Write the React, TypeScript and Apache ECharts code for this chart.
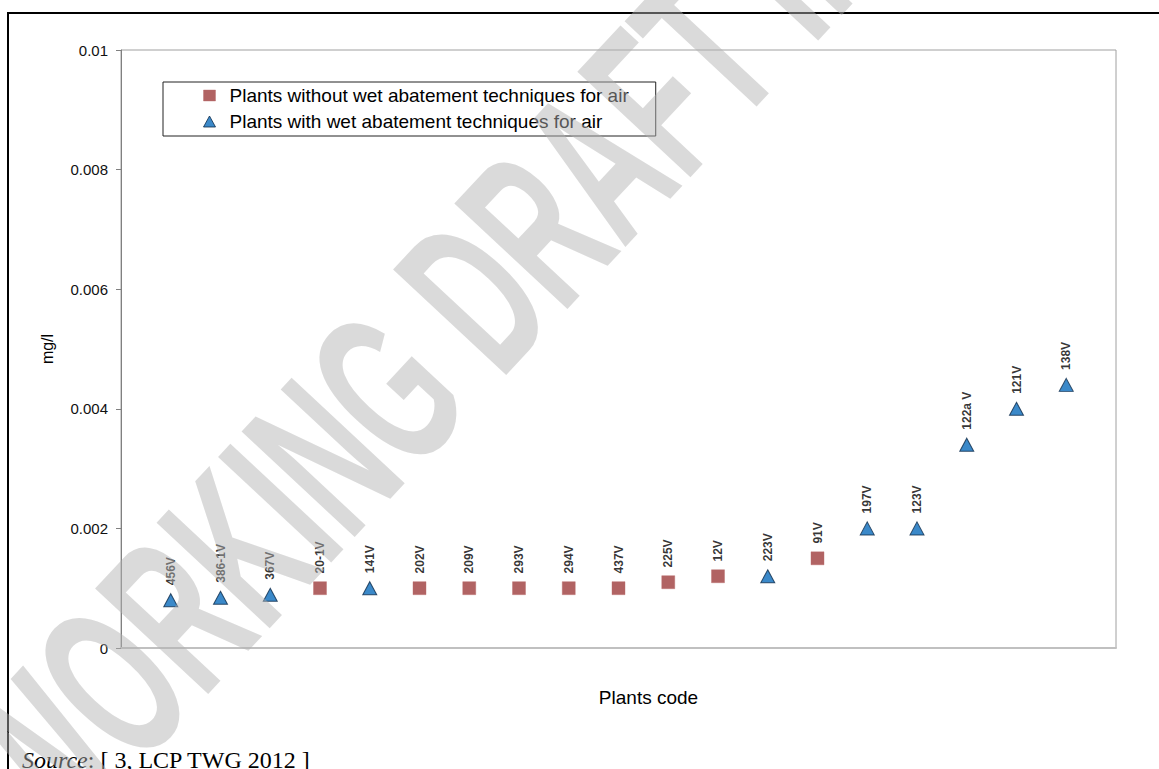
import React, { useEffect, useRef } from "react";
import * as echarts from "echarts";

const plantCodes = [
  "456V", "386-1V", "367V", "20-1V", "141V", "202V", "209V", "293V", "294V", "437V",
  "225V", "12V", "223V", "91V", "197V", "123V", "122a V", "121V", "138V",
];
const concentrations = [
  0.0008, 0.00084, 0.00089, 0.001, 0.001, 0.001, 0.001, 0.001, 0.001, 0.001,
  0.0011, 0.0012, 0.0012, 0.0015, 0.002, 0.002, 0.0034, 0.004, 0.0044,
];
const hasWetAbatement = [
  true, true, true, false, true, false, false, false, false, false,
  false, false, true, false, true, true, true, true, true,
];
const seriesNames = [
  "Plants without wet abatement techniques for air",
  "Plants with wet abatement techniques for air",
];
const yAxisTitle = "mg/l";
const xAxisTitle = "Plants code";
const sourceNote = "[ 3, LCP TWG 2012 ]";
const watermark = "WORKING DRAFT IN PROGRESS";

const SANS = '"Liberation Sans", Arial, sans-serif';
const SERIF = '"Liberation Serif", "Times New Roman", serif';

export default function App() {
  const ref = useRef<HTMLDivElement>(null);
  useEffect(() => {
    const chart = echarts.init(ref.current!, null, { renderer: "svg" });
    const withoutData: any[] = [];
    const withData: any[] = [];
    plantCodes.forEach((code, i) => {
      const pt = { value: [i + 1, concentrations[i]], name: code };
      (hasWetAbatement[i] ? withData : withoutData).push(pt);
    });
    const label = {
      show: true,
      formatter: "{b}",
      position: "top",
      distance: 8,
      rotate: 90,
      align: "left",
      verticalAlign: "middle",
      fontSize: 12,
      fontWeight: "bold",
      fontFamily: SANS,
      color: "#000",
    };
    const rad = (47 * Math.PI) / 180;
    const squareStyle = { color: "#9e3c3c", borderColor: "#b86a6a", borderWidth: 0.5 };
    const triangleStyle = { color: "#0a6cbc", borderColor: "#0d2a4a", borderWidth: 1 };
    chart.setOption({
      animation: false,
      backgroundColor: "#fff",
      grid: {
        left: 121,
        top: 50,
        right: 43,
        bottom: 121,
        show: true,
        borderColor: "#a0a0a0",
        borderWidth: 1,
        backgroundColor: "transparent",
      },
      legend: {
        orient: "vertical",
        left: 163,
        top: 82,
        padding: [4, 27, 5, 40],
        itemWidth: 12,
        itemHeight: 11,
        itemGap: 7,
        borderColor: "#222",
        borderWidth: 1,
        backgroundColor: "#fff",
        data: [
          { name: seriesNames[0], icon: "rect", itemStyle: squareStyle },
          { name: seriesNames[1], icon: "triangle", itemStyle: triangleStyle },
        ],
        textStyle: { fontSize: 19, fontFamily: SANS, color: "#000", padding: [0, 0, 0, 9] },
      },
      xAxis: {
        type: "value",
        min: 0,
        max: 20,
        interval: 1,
        name: xAxisTitle,
        nameLocation: "middle",
        nameGap: 40,
        nameTextStyle: { fontSize: 19, fontFamily: SANS, color: "#000", padding: [0, 0, 0, 60] },
        axisLine: { show: true, lineStyle: { color: "#c0c0c0", width: 2 } },
        axisTick: { show: false },
        axisLabel: { show: false },
        splitLine: { show: false },
      },
      yAxis: {
        type: "value",
        min: 0,
        max: 0.01,
        interval: 0.002,
        name: yAxisTitle,
        nameLocation: "middle",
        nameGap: 66,
        nameTextStyle: { fontSize: 16, fontFamily: SANS, color: "#000" },
        axisLine: { show: true, lineStyle: { color: "#808080", width: 1 } },
        axisTick: { show: true, inside: false, length: 5, lineStyle: { color: "#808080" } },
        axisLabel: { margin: 13, fontSize: 15, fontFamily: SANS, color: "#111" },
        splitLine: { show: false },
      },
      series: [
        {
          name: seriesNames[0],
          type: "scatter",
          symbol: "rect",
          symbolSize: 13,
          itemStyle: squareStyle,
          label,
          data: withoutData,
        },
        {
          name: seriesNames[1],
          type: "scatter",
          symbol: "triangle",
          symbolSize: [14, 13],
          itemStyle: triangleStyle,
          label,
          data: withData,
        },
      ],
      graphic: [
        { type: "line", shape: { x1: 7, y1: 13, x2: 1159, y2: 13 }, style: { stroke: "#000", lineWidth: 2 }, silent: true },
        { type: "line", shape: { x1: 8, y1: 12, x2: 8, y2: 769 }, style: { stroke: "#000", lineWidth: 2 }, silent: true },
        {
          type: "text",
          left: 22,
          top: 748,
          silent: true,
          style: {
            text: "{i|Source}: " + sourceNote,
            font: "24px " + SERIF,
            fill: "#000",
            rich: { i: { fontStyle: "italic", fontSize: 24, fontFamily: SERIF } },
          },
        },
        {
          type: "text",
          x: -1,
          y: 804,
          rotation: rad,
          scaleX: 0.86,
          scaleY: 1.55,
          silent: true,
          z: 100,
          style: {
            text: watermark,
            font: "bold 145px " + SANS,
            fill: "rgba(177,177,177,0.48)",
            textAlign: "left",
            textVerticalAlign: "middle",
          },
        },
      ],
    });
    return () => chart.dispose();
  }, []);
  return (
    <div
      ref={ref}
      style={{ position: "fixed", left: 0, top: 0, width: 1159, height: 769, background: "#fff" }}
    />
  );
}
